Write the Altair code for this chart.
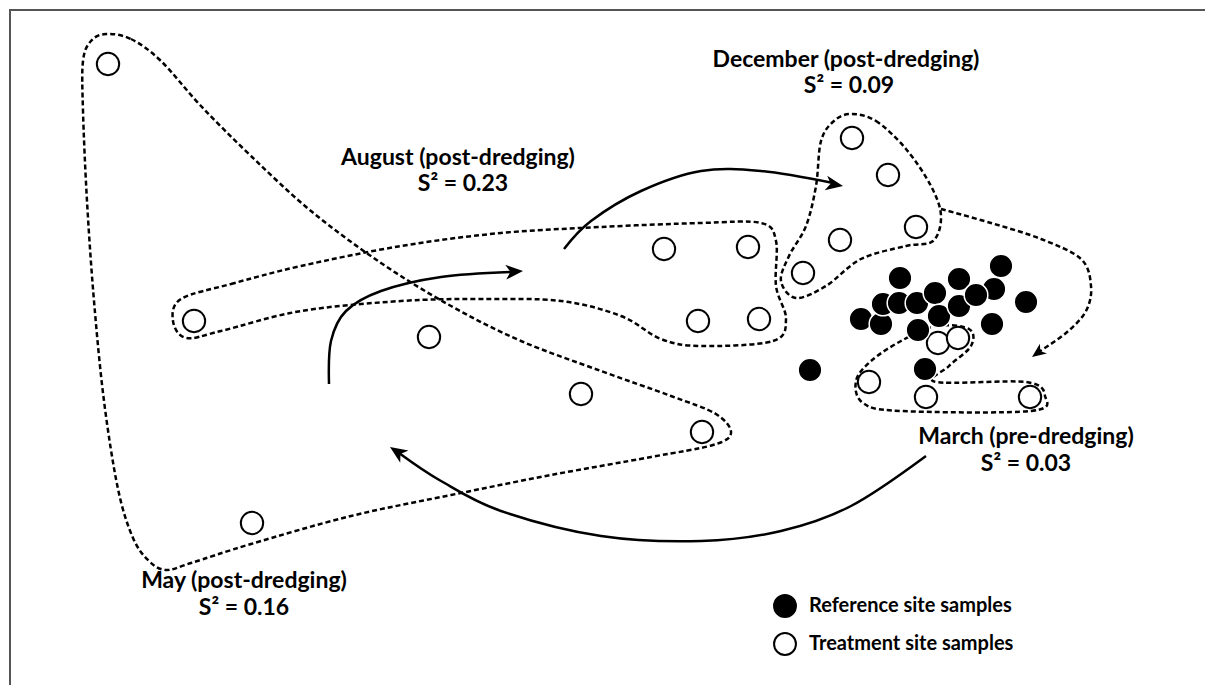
import altair as alt
import pandas as pd

# ---- sample scores (ordination plane, drawn on hidden axes) ----
ref_x = [899, 1000, 958, 993, 1025, 860, 880, 882, 898, 916, 934, 938, 958, 975, 917, 991, 809, 924]
ref_y = [277, 265, 278, 288, 301, 318, 323, 303, 302, 302, 292, 315, 305, 294, 329, 323, 369, 368]

trt_x = [107, 193, 428, 580, 701, 251, 663, 747, 697, 758, 851, 887, 915, 839, 802, 868, 925, 1029, 937, 957]
trt_y = [63, 320, 336, 393, 431, 522, 248, 246, 320, 318, 137, 174, 226, 239, 272, 381, 396, 396, 342, 337]

# ---- dispersion envelopes (dashed) ----
may_x = [105, 130, 160, 200, 250, 310, 380, 450, 520, 600, 670, 715, 730, 712, 650, 550, 450, 350, 250, 190, 165, 148, 132, 117, 103, 93, 86, 82, 82, 90]
may_y = [33, 38, 60, 105, 155, 210, 262, 305, 340, 370, 395, 413, 432, 444, 456, 474, 494, 515, 543, 562, 569, 560, 537, 488, 400, 300, 200, 110, 60, 40]

aug_x = [180, 230, 300, 400, 500, 600, 700, 760, 775, 775, 785, 772, 700, 660, 620, 560, 480, 400, 300, 220, 185, 172]
aug_y = [298, 283, 265, 245, 232, 226, 222, 222, 240, 285, 318, 340, 345, 338, 315, 300, 298, 300, 310, 330, 337, 320]

dec_x = [850, 875, 905, 930, 940, 932, 905, 860, 825, 795, 780, 788, 805, 815, 820, 833]
dec_y = [113, 120, 148, 185, 215, 240, 245, 258, 285, 297, 280, 255, 225, 185, 140, 120]

mar_x = [900, 935, 968, 970, 948, 935, 1025, 1044, 1030, 900, 862, 855, 870]
mar_y = [340, 325, 328, 345, 365, 381, 381, 395, 410, 410, 402, 380, 360]

# dashed trajectory December -> March
dtraj_x = [940, 990, 1040, 1080, 1090, 1085, 1065, 1036]
dtraj_y = [208, 222, 238, 258, 285, 310, 332, 352]

# solid trajectories
a1_x = [328, 330, 345, 380, 440, 512]
a1_y = [383, 340, 310, 290, 276, 271]
a2_x = [563, 590, 640, 700, 760, 832]
a2_y = [248, 220, 190, 170, 170, 182]
a3_x = [925, 850, 780, 700, 600, 500, 440, 398]
a3_y = [455, 505, 530, 540, 535, 510, 480, 452]

# arrow heads (tip position, direction in degrees, size)
head_x = [522, 842, 389, 1031]
head_y = [270, 185, 446, 356]
head_angle = [356, 10, 214, 144]
head_size = [300, 300, 300, 200]

# ---- labels ----
lab_text = ["December (post-dredging)", "S² = 0.09",
            "August (post-dredging)", "S² = 0.23",
            "March (pre-dredging)", "S² = 0.03",
            "May (post-dredging)", "S² = 0.16"]
lab_x = [845, 848, 457, 462, 1025, 1025, 243, 243]
lab_y = [59, 85, 157, 183, 436, 463, 580, 607]

leg_text = ["Reference site samples", "Treatment site samples"]
leg_x = [784, 784]
leg_y = [605, 643]
leg_fill = ["black", "white"]

FONT = "Lato"

X = alt.X("x:Q", scale=alt.Scale(domain=[8, 1204], nice=False, zero=False), axis=None)
Y = alt.Y("y:Q", scale=alt.Scale(domain=[8, 684], nice=False, zero=False, reverse=True), axis=None)


def path_df(name, xs, ys):
    return pd.DataFrame({"g": name, "x": xs, "y": ys, "i": range(len(xs))})


hulls = pd.concat([
    path_df("May", may_x, may_y),
    path_df("August", aug_x, aug_y),
    path_df("December", dec_x, dec_y),
    path_df("March", mar_x, mar_y),
])
solid = pd.concat([
    path_df("a1", a1_x, a1_y),
    path_df("a2", a2_x, a2_y),
    path_df("a3", a3_x, a3_y),
])
dtraj = path_df("d", dtraj_x, dtraj_y)

hull_layer = alt.Chart(hulls).mark_line(
    interpolate="cardinal-closed", color="black", strokeWidth=2.5, strokeDash=[5, 3]
).encode(x=X, y=Y, detail="g:N", order="i:Q")

dtraj_layer = alt.Chart(dtraj).mark_line(
    interpolate="cardinal", color="black", strokeWidth=2.5, strokeDash=[5, 3]
).encode(x=X, y=Y, order="i:Q")

solid_layer = alt.Chart(solid).mark_line(
    interpolate="cardinal", color="black", strokeWidth=2.5
).encode(x=X, y=Y, detail="g:N", order="i:Q")

ARROW = "M0,0L-2,-0.85L-1.45,0L-2,0.85Z"
heads = pd.DataFrame({"x": head_x, "y": head_y, "a": head_angle, "s": head_size})
head_layer = alt.Chart(heads).mark_point(
    shape=ARROW, filled=True, color="black", opacity=1, strokeWidth=0
).encode(x=X, y=Y, angle=alt.Angle("a:Q", scale=None), size=alt.Size("s:Q", scale=None))

trt = pd.DataFrame({"x": trt_x, "y": trt_y})
trt_layer = alt.Chart(trt).mark_point(
    shape="circle", filled=True, fill="white", stroke="black", strokeWidth=2, size=500, opacity=1
).encode(x=X, y=Y)

ref = pd.DataFrame({"x": ref_x, "y": ref_y})
ref_layer = alt.Chart(ref).mark_point(
    shape="circle", filled=True, fill="black", stroke="white", strokeWidth=1.5, size=560, opacity=1
).encode(x=X, y=Y)

labs = pd.DataFrame({"t": lab_text, "x": lab_x, "y": lab_y})
lab_layer = alt.Chart(labs).mark_text(
    font=FONT, fontWeight="bold", fontSize=23, color="black", align="center", baseline="middle"
).encode(x=X, y=Y, text="t:N")

leg = pd.DataFrame({"t": leg_text, "x": leg_x, "y": leg_y, "f": leg_fill})
leg_pts = alt.Chart(leg).mark_point(
    shape="circle", filled=True, stroke="black", strokeWidth=2, size=480, opacity=1
).encode(x=X, y=Y, fill=alt.Fill("f:N", scale=None))
leg_txt = alt.Chart(leg).mark_text(
    font=FONT, fontWeight="bold", fontSize=20, color="black", align="left", baseline="middle", dx=24
).encode(x=X, y=Y, text="t:N")

frame_left = alt.Chart(pd.DataFrame({"k": [0]})).mark_rule(color="#555555", strokeWidth=2).encode(
    x=alt.value(1), y=alt.value(0), y2=alt.value(676))
frame_top = alt.Chart(pd.DataFrame({"k": [0]})).mark_rule(color="#555555", strokeWidth=2).encode(
    x=alt.value(0), x2=alt.value(1196), y=alt.value(1))

chart = alt.layer(
    frame_left, frame_top,
    hull_layer, dtraj_layer, solid_layer, head_layer,
    trt_layer, ref_layer, lab_layer, leg_pts, leg_txt,
).properties(width=1196, height=676, padding=0).configure_view(stroke=None)

chart.save("out.html", embed_options={"renderer": "svg", "actions": False})
